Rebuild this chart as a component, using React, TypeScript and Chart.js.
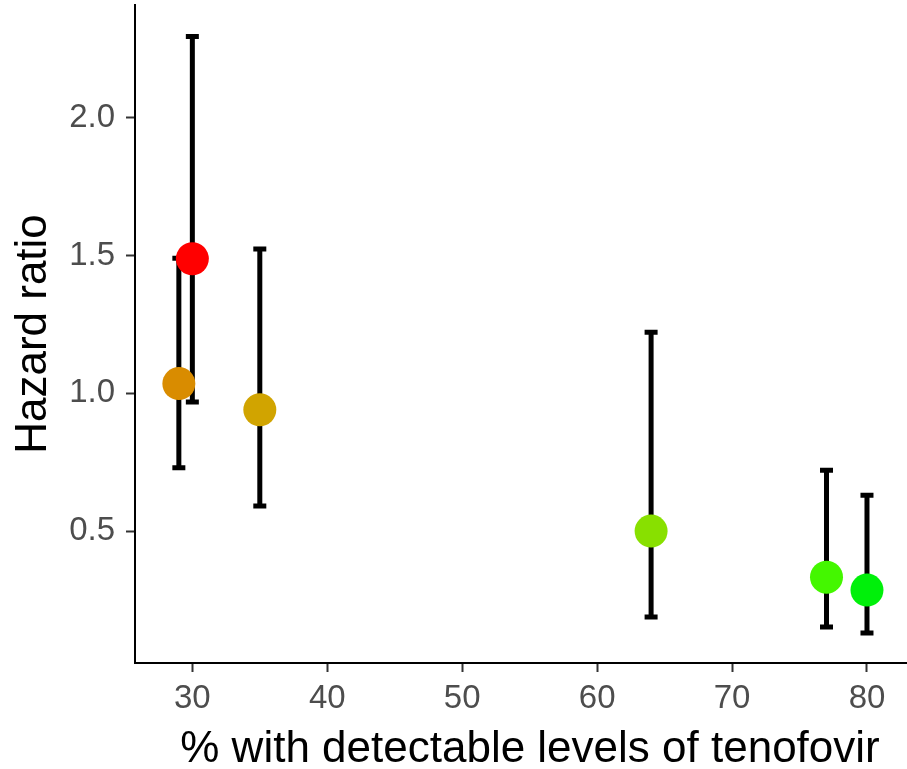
import React, { useEffect, useRef } from "react";
import { Chart, registerables } from "chart.js";

Chart.register(...registerables);

const detectable = [29, 30, 35, 64, 77, 80];
const hazardRatio = [1.035, 1.488, 0.94, 0.5, 0.333, 0.286];
const ciLower = [0.73, 0.968, 0.591, 0.188, 0.152, 0.13];
const ciUpper = [1.49, 2.294, 1.523, 1.221, 0.721, 0.63];
const pointColors = ["#D98C00", "#FF0000", "#D1A400", "#88E000", "#44F700", "#00F00A"];
const xTicks = [30, 40, 50, 60, 70, 80];
const yTicks = [0.5, 1.0, 1.5, 2.0];

const FONT = "'Liberation Sans', Arial, Helvetica, sans-serif";

export default function App() {
  const ref = useRef<HTMLCanvasElement>(null);

  useEffect(() => {
    document.body.style.margin = "0";
    const canvas = ref.current;
    if (!canvas) return;

    const errorBars = {
      id: "errorBars",
      beforeDatasetsDraw(chart: any) {
        const { ctx } = chart;
        const x = chart.scales.x;
        const y = chart.scales.y;
        ctx.save();
        ctx.strokeStyle = "#000000";
        ctx.lineWidth = 5;
        ctx.lineCap = "butt";
        detectable.forEach((d, i) => {
          const px = x.getPixelForValue(d);
          const lo = y.getPixelForValue(ciLower[i]);
          const hi = y.getPixelForValue(ciUpper[i]);
          ctx.beginPath();
          ctx.moveTo(px, lo);
          ctx.lineTo(px, hi);
          ctx.moveTo(px - 6.5, lo);
          ctx.lineTo(px + 6.5, lo);
          ctx.moveTo(px - 6.5, hi);
          ctx.lineTo(px + 6.5, hi);
          ctx.stroke();
        });
        ctx.restore();
      },
    };

    const chart = new Chart(canvas, {
      type: "scatter",
      data: {
        datasets: [
          {
            data: detectable.map((d, i) => ({ x: d, y: hazardRatio[i] })),
            pointBackgroundColor: pointColors,
            pointBorderWidth: 0,
            pointRadius: 16.5,
            pointHoverRadius: 16.5,
          },
        ],
      },
      options: {
        animation: false,
        responsive: false,
        devicePixelRatio: 1,
        events: [],
        layout: { autoPadding: false, padding: { top: 5, left: 0, right: 0, bottom: 0 } },
        plugins: { legend: { display: false }, tooltip: { enabled: false } },
        scales: {
          x: {
            type: "linear",
            min: 25.75,
            max: 84.3,
            afterBuildTicks: (s: any) => {
              s.ticks = xTicks.map((v) => ({ value: v }));
            },
            afterFit: (s: any) => {
              s.height = 106;
              s.paddingLeft = 0;
              s.paddingRight = 0;
            },
            grid: {
              drawOnChartArea: false,
              drawTicks: true,
              tickLength: 9,
              tickColor: "#333333",
              tickWidth: 2,
            },
            border: { display: true, color: "#000000", width: 2 },
            ticks: {
              color: "#4D4D4D",
              font: { family: FONT, size: 33 },
              padding: 7,
              maxRotation: 0,
              autoSkip: false,
              callback: (v: any) => String(v),
            },
            title: {
              display: true,
              text: "% with detectable levels of tenofovir",
              color: "#000000",
              font: { family: FONT, size: 44, lineHeight: 0.886 },
              padding: { top: 0, bottom: 0 },
            },
          },
          y: {
            type: "linear",
            min: 0.0215,
            max: 2.4085,
            afterBuildTicks: (s: any) => {
              s.ticks = yTicks.map((v) => ({ value: v }));
            },
            afterFit: (s: any) => {
              s.width = 135;
              s.paddingTop = 0;
              s.paddingBottom = 0;
            },
            grid: {
              drawOnChartArea: false,
              drawTicks: true,
              tickLength: 9,
              tickColor: "#333333",
              tickWidth: 2,
            },
            border: { display: true, color: "#000000", width: 2 },
            ticks: {
              color: "#4D4D4D",
              font: { family: FONT, size: 33 },
              padding: 11,
              autoSkip: false,
              callback: (v: any) => Number(v).toFixed(1),
            },
            title: {
              display: true,
              text: "Hazard ratio",
              color: "#000000",
              font: { family: FONT, size: 44, lineHeight: 0.886 },
              padding: { top: 14.5, bottom: 0 },
            },
          },
        },
      },
      plugins: [errorBars],
    });

    return () => chart.destroy();
  }, []);

  return (
    <div style={{ width: 907, height: 769, overflow: "hidden", background: "#ffffff" }}>
      <canvas ref={ref} width={925} height={769} style={{ display: "block" }} />
    </div>
  );
}
